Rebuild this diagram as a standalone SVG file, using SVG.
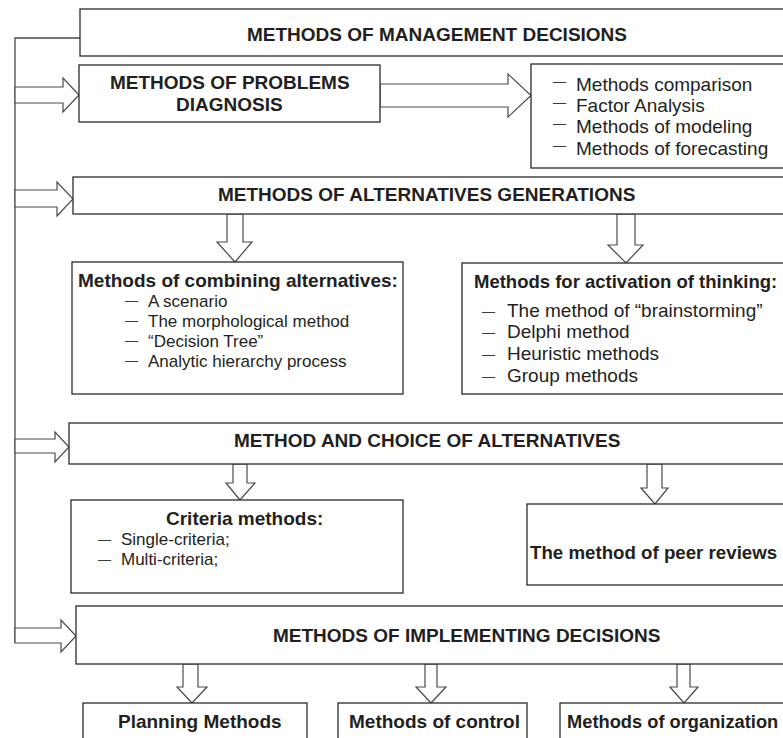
<svg xmlns="http://www.w3.org/2000/svg" width="783" height="738" viewBox="0 0 783 738">
<style>
.box{fill:#fff;stroke:#2b2b2b;stroke-width:1.3}
.arr{fill:#fff;stroke:#4a4a4a;stroke-width:1.2;stroke-linejoin:miter}
.ln{fill:none;stroke:#4a4a4a;stroke-width:1.3}
.b{font-family:"Liberation Sans",Arial,sans-serif;font-weight:bold;font-size:19px;fill:#231f20}
.r{font-family:"Liberation Sans",Arial,sans-serif;font-size:19px;fill:#231f20}
.s{font-family:"Liberation Sans",Arial,sans-serif;font-size:17px;fill:#231f20}
.d{font-family:"Liberation Sans",Arial,sans-serif;font-size:13px;fill:#3a3a3a}
</style>
<rect width="783" height="738" fill="#fff"/>
<g id="connectors">
<polyline class="ln" points="80,38 15,38 15,643"/>
<polygon class="arr" points="15,87 63,87 63,78 79,95 63,112 63,103 15,103"/>
<polygon class="arr" points="380,84 508,84 508,74 531,95.5 508,117 508,107 380,107"/>
<polygon class="arr" points="15,190 57,190 57,182 73,199 57,216 57,207 15,207"/>
<polygon class="arr" points="227,214 243,214 243,242 252,242 235,262 217,242 227,242"/>
<polygon class="arr" points="617,214 635,214 635,245 643,245 626,263 608,245 617,245"/>
<polygon class="arr" points="15,439 55,439 55,432 69,447 55,462 55,453 15,453"/>
<polygon class="arr" points="233,464 247,464 247,483 255,483 240,500 226,483 233,483"/>
<polygon class="arr" points="647,464 662,464 662,488 668,488 655,504 641,488 647,488"/>
<polygon class="arr" points="15,628 61,628 61,620 76,636 61,652 61,643 15,643"/>
<polygon class="arr" points="183,664 198,664 198,687 207,687 192,703 177,687 183,687"/>
<polygon class="arr" points="425,664 437,664 437,687 446,687 431,703 416,687 425,687"/>
<polygon class="arr" points="677,664 690,664 690,687 698,687 684,703 670,687 677,687"/>
</g>
<g id="n-management">
<rect class="box" x="80" y="9" width="720" height="47"/>
<text class="b" x="247" y="41">METHODS OF MANAGEMENT DECISIONS</text>
</g>
<g id="n-diagnosis">
<rect class="box" x="79" y="65" width="301" height="57"/>
<text class="b" x="110" y="89">METHODS OF PROBLEMS</text>
<text class="b" x="176" y="111">DIAGNOSIS</text>
</g>
<g id="n-diagnosis-list">
<rect class="box" x="531" y="64" width="269" height="104"/>
<text class="d" x="553" y="85.5">—</text><text class="r" x="576" y="90.5">Methods comparison</text>
<text class="d" x="553" y="106.5">—</text><text class="r" x="576" y="111.5">Factor Analysis</text>
<text class="d" x="553" y="128">—</text><text class="r" x="576" y="133">Methods of modeling</text>
<text class="d" x="553" y="150">—</text><text class="r" x="576" y="155">Methods of forecasting</text>
</g>
<g id="n-alternatives">
<rect class="box" x="73" y="177" width="727" height="37"/>
<text class="b" x="218" y="201">METHODS OF ALTERNATIVES GENERATIONS</text>
</g>
<g id="n-combining">
<rect class="box" x="72" y="262" width="331" height="132"/>
<text class="b" x="78" y="287">Methods of combining alternatives:</text>
<text class="d" x="125" y="305">—</text><text class="s" x="148" y="307">A scenario</text>
<text class="d" x="125" y="325">—</text><text class="s" x="148" y="327">The morphological method</text>
<text class="d" x="125" y="345">—</text><text class="s" x="148" y="347">“Decision Tree”</text>
<text class="d" x="125" y="365">—</text><text class="s" x="148" y="367">Analytic hierarchy process</text>
</g>
<g id="n-activation">
<rect class="box" x="462" y="263" width="338" height="131"/>
<text class="b" x="474" y="288" style="font-size:18.5px">Methods for activation of thinking:</text>
<text class="d" x="482" y="315.5">—</text><text class="r" x="507" y="316.5">The method of “brainstorming”</text>
<text class="d" x="482" y="337">—</text><text class="r" x="507" y="338">Delphi method</text>
<text class="d" x="482" y="359">—</text><text class="r" x="507" y="360">Heuristic methods</text>
<text class="d" x="482" y="381">—</text><text class="r" x="507" y="382">Group methods</text>
</g>
<g id="n-choice">
<rect class="box" x="69" y="423" width="731" height="41"/>
<text class="b" x="234" y="447">METHOD AND CHOICE OF ALTERNATIVES</text>
</g>
<g id="n-criteria">
<rect class="box" x="71" y="500" width="332" height="93"/>
<text class="b" x="166" y="525">Criteria methods:</text>
<text class="d" x="98" y="544">—</text><text class="s" x="121" y="545">Single-criteria;</text>
<text class="d" x="98" y="564">—</text><text class="s" x="121" y="565">Multi-criteria;</text>
</g>
<g id="n-peer">
<rect class="box" x="527" y="504" width="273" height="81"/>
<text class="b" x="530" y="559" style="font-size:18.7px">The method of peer reviews</text>
</g>
<g id="n-implementing">
<rect class="box" x="76" y="606" width="724" height="58"/>
<text class="b" x="273" y="642">METHODS OF IMPLEMENTING DECISIONS</text>
</g>
<g id="n-planning">
<rect class="box" x="83" y="703" width="224" height="60"/>
<text class="b" x="118" y="728">Planning Methods</text>
</g>
<g id="n-control">
<rect class="box" x="338" y="703" width="189" height="60"/>
<text class="b" x="349" y="728">Methods of control</text>
</g>
<g id="n-organization">
<rect class="box" x="560" y="703" width="240" height="60"/>
<text class="b" x="567" y="728" style="font-size:18.3px">Methods of organization</text>
</g>
</svg>
